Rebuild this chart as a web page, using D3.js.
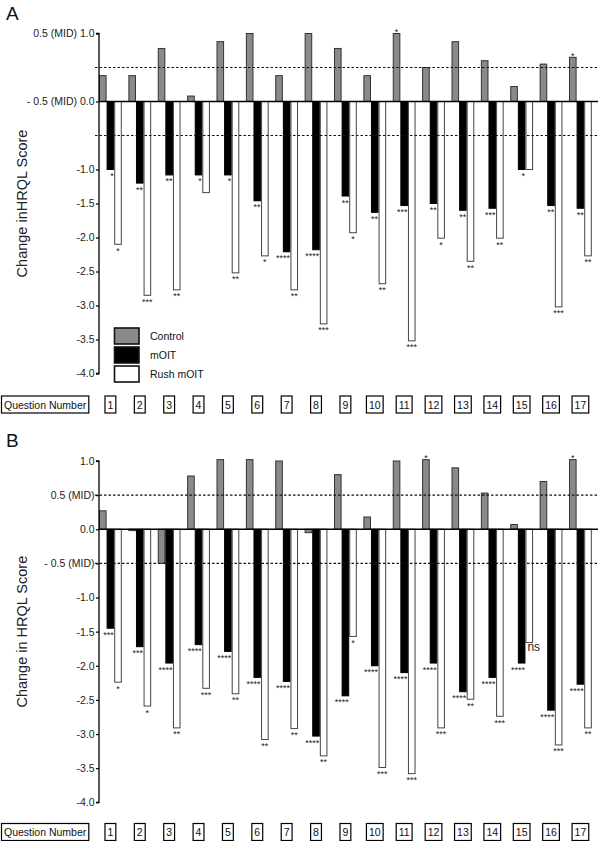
<!DOCTYPE html>
<html><head><meta charset="utf-8">
<script src="https://cdn.jsdelivr.net/npm/d3@7"></script>
<style>body{margin:0;background:#fff}svg{display:block;font-family:"Liberation Sans",Arial,Helvetica,sans-serif}</style>
</head><body>
<script>
const questions = ["1","2","3","4","5","6","7","8","9","10","11","12","13","14","15","16","17"];
const series = ["Control","mOIT","Rush mOIT"];

const controlA = [0.38,0.38,0.78,0.08,0.88,1.0,0.38,1.0,0.78,0.38,1.0,0.5,0.88,0.6,0.22,0.55,0.65];
const moitA    = [-1.0,-1.2,-1.08,-1.08,-1.08,-1.46,-2.21,-2.18,-1.39,-1.63,-1.53,-1.5,-1.6,-1.57,-1.0,-1.53,-1.57];
const rushA    = [-2.1,-2.85,-2.77,-1.34,-2.52,-2.27,-2.77,-3.27,-1.93,-2.68,-3.52,-2.01,-2.35,-2.01,-1.0,-3.02,-2.27];
const sigControlA = ["","","","","","","","","","","*","","","","","","*"];
const sigMoitA = ["*","**","**","*","*","**","****","****","**","**","***","**","**","***","*","**","**"];
const sigRushA = ["*","***","**","","**","*","**","***","*","**","***","*","**","**","","***","**"];

const controlB = [0.27,-0.02,-0.5,0.78,1.02,1.02,1.0,-0.05,0.8,0.18,1.0,1.02,0.9,0.53,0.07,0.7,1.02];
const moitB    = [-1.45,-1.72,-1.96,-1.69,-1.79,-2.17,-2.23,-3.03,-2.44,-2.0,-2.1,-1.96,-2.38,-2.17,-1.96,-2.65,-2.27];
const rushB    = [-2.24,-2.59,-2.91,-2.33,-2.41,-3.08,-2.92,-3.32,-1.57,-3.49,-3.58,-2.91,-2.49,-2.74,-1.66,-3.16,-2.91];
const sigControlB = ["","","","","","","","","","","","*","","","","","*"];
const sigMoitB = ["***","***","****","****","****","****","****","****","****","****","****","****","****","****","****","****","****"];
const sigRushB = ["*","*","**","***","**","**","**","**","*","***","***","***","**","***","ns","***","**"];

const tickValuesA = [1,0,-1,-1.5,-2,-2.5,-3,-3.5,-4];
const tickLabelsA = ["0.5 (MID) 1.0","- 0.5 (MID) 0.0","-1.0","-1.5","-2.0","-2.5","-3.0","-3.5","-4.0"];
const tickValuesB = [1,0.5,0,-0.5,-1,-1.5,-2,-2.5,-3,-3.5,-4];
const tickLabelsB = ["1.0","0.5 (MID)","0.0","- 0.5 (MID)","-1.0","-1.5","-2.0","-2.5","-3.0","-3.5","-4.0"];
const midLines = [0.5,-0.5];

const W = 600, H = 841;
const svg = d3.select("body").append("svg").attr("width",W).attr("height",H);

const fills = {"Control":"#8a8a8a","mOIT":"#000","Rush mOIT":"#fff"};
const strokes = {"Control":"#333","mOIT":"#000","Rush mOIT":"#444"};

const x = d3.scaleBand().domain(questions).range([99,591.8]).paddingInner(0.224).paddingOuter(0);
const xs = d3.scaleBand().domain(series).range([0,x.bandwidth()]);
const xEnd = 598;

function panel(opts){
  const {letter, yTop, yBot, data, sigs, tickValues, tickLabels, title, qY} = opts;
  const y = d3.scaleLinear().domain([-4,1]).range([yBot,yTop]);
  const g = svg.append("g");
  g.append("text").attr("x",6).attr("y",yTop-14).attr("font-size",19).attr("fill","#111").text(letter);

  // bars
  series.forEach((s,si)=>{
    g.append("g").selectAll("rect").data(data[si]).join("rect")
      .attr("x",(d,i)=>x(questions[i])+xs(s)+0.5)
      .attr("width",xs.bandwidth()-1)
      .attr("y",d=>Math.min(y(d),y(0)))
      .attr("height",d=>Math.abs(y(d)-y(0)))
      .attr("fill",fills[s]).attr("stroke",strokes[s]).attr("stroke-width",1);
  });

  // dashed MID lines
  g.selectAll("line.mid").data(midLines).join("line")
    .attr("x1",95).attr("x2",xEnd).attr("y1",d=>y(d)).attr("y2",d=>y(d))
    .attr("stroke","#111").attr("stroke-width",1.2).attr("stroke-dasharray","2.5,2");
  // zero line
  g.append("line").attr("x1",99).attr("x2",xEnd).attr("y1",y(0)).attr("y2",y(0))
    .attr("stroke","#000").attr("stroke-width",1.5);

  // axis
  const ax = g.append("g").attr("transform","translate(99,0)")
    .call(d3.axisLeft(y).tickValues(tickValues).tickFormat((d,i)=>tickLabels[i]).tickSize(3).tickPadding(1.5));
  ax.select(".domain").attr("stroke","#000").attr("stroke-width",1.3).attr("d",`M-3,${y(1)}H0V${y(-4)}H-3`);
  ax.selectAll(".tick line").attr("stroke","#000").attr("stroke-width",1.2);
  ax.selectAll(".tick text").attr("font-size",10.5).attr("fill","#222").attr("font-family","Liberation Sans, Arial, sans-serif");

  // title
  g.append("text").attr("transform",`translate(27,${(y(1)+y(-4))/2}) rotate(-90)`)
    .attr("text-anchor","middle").attr("font-size",14.5).attr("fill","#222").text(title);

  // significance labels
  const [sc, sm, sr] = sigs;
  g.append("g").selectAll("text").data(sc).join("text")
    .attr("x",(d,i)=>x(questions[i])+xs("Control")+xs.bandwidth()/2)
    .attr("y",(d,i)=>y(data[0][i])+1.5)
    .attr("text-anchor","middle").attr("font-size",9).attr("fill","#222").text(d=>d);
  g.append("g").selectAll("text").data(sm).join("text")
    .attr("x",(d,i)=>x(questions[i])+xs("mOIT")+xs.bandwidth()-0.5)
    .attr("y",(d,i)=>y(data[1][i])+9.5)
    .attr("text-anchor","end").attr("font-size",9).attr("fill","#222").text(d=>d);
  g.append("g").selectAll("text").data(sr).join("text")
    .attr("x",(d,i)=> d==="ns" ? x(questions[i])+xs("Rush mOIT")+2 : x(questions[i])+xs("Rush mOIT")+xs.bandwidth()/2)
    .attr("y",(d,i)=> d==="ns" ? y(data[2][i])+8.5 : y(data[2][i])+9.5)
    .attr("text-anchor",d=>d==="ns"?"start":"middle")
    .attr("font-size",d=>d==="ns"?12:9).attr("fill","#222").text(d=>d);

  // question number row
  const qg = g.append("g");
  function box(label, cx, anchorLeft){
    const t = qg.append("text").attr("font-size",10.5).attr("fill","#111").text(label);
    const w = t.node().getComputedTextLength();
    const bx = anchorLeft!==undefined ? anchorLeft : cx - (w+5)/2;
    t.attr("x",bx+2.5).attr("y",qY+12.5);
    qg.insert("rect","text").attr("x",bx).attr("y",qY).attr("width",w+5).attr("height",17)
      .attr("fill","#fff").attr("stroke","#000").attr("stroke-width",1.2);
  }
  box("Question Number",null,1.5);
  questions.forEach(q=>box(q, x(q)+x.bandwidth()/2));
  return y;
}

panel({letter:"A", yTop:33.5, yBot:373.5, data:[controlA,moitA,rushA],
  sigs:[sigControlA,sigMoitA,sigRushA], tickValues:tickValuesA, tickLabels:tickLabelsA,
  title:"Change inHRQL Score", qY:396});
panel({letter:"B", yTop:461, yBot:802.3, data:[controlB,moitB,rushB],
  sigs:[sigControlB,sigMoitB,sigRushB], tickValues:tickValuesB, tickLabels:tickLabelsB,
  title:"Change in HRQL Score", qY:823.5});

// legend (panel A)
const lg = svg.append("g");
lg.selectAll("rect").data(series).join("rect")
  .attr("x",114.5).attr("y",(d,i)=>328+i*19).attr("width",24.5).attr("height",16)
  .attr("fill",d=>fills[d]).attr("stroke","#111").attr("stroke-width",1.6);
lg.selectAll("text").data(series).join("text")
  .attr("x",150).attr("y",(d,i)=>340+i*19).attr("font-size",10.5).attr("fill","#111").text(d=>d);
</script>
</body></html>
